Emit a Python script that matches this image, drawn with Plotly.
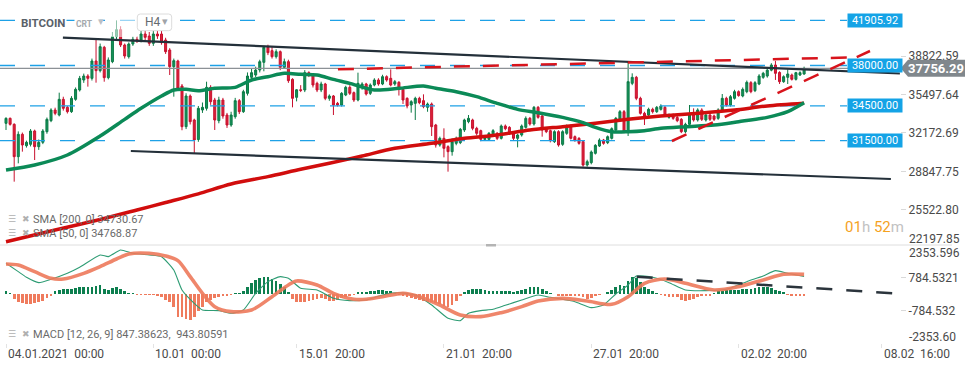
import plotly.graph_objects as go

# ---------------- DATA ----------------
candle_open = [
    32998, 33431, 32912, 30115, 32047, 31066, 31181, 32335, 30980, 31354,
    32277, 33229, 34152, 33719, 35074, 34382, 34007, 35074, 35882, 36747,
    37093, 36891, 38390, 37554, 39573, 36949, 38333, 40495, 41100, 39774,
    38765, 39861, 40265, 40207, 40726, 40553, 39919, 40726, 40726, 40207,
    39342, 37900, 38390, 36228, 32710, 35363, 33287, 31600, 34152, 34296,
    36112, 35017, 33229, 35017, 33719, 32854, 33575, 34959, 34007, 35593,
    36977, 37179, 37612, 38275, 39573, 39284, 38765, 39198, 37842, 38333,
    36804, 35247, 35900, 35882, 37381, 37179, 36458, 35882, 36401, 35161,
    35363, 34728, 34584, 35449, 36112, 35651, 35017, 36100, 36401, 35593,
    36314, 36747, 36401, 37035, 36891, 36401, 36545, 35939, 35161, 34584,
    34728, 35161, 34959, 34382, 34671, 32854, 31124, 31701, 30980, 30547,
    31268, 31326, 32422, 33142, 33287, 32566, 32364, 31614, 31614, 31989,
    32133, 31701, 32768, 32652, 32075, 31701, 31989, 32652, 33431, 32941,
    34382, 33632, 32566, 32364, 31412, 32277, 31182, 32133, 32768, 31845,
    31701, 31412, 29394, 29596, 30403, 31037, 31556, 31326, 31701, 32422,
    33287, 34007, 32277, 36458, 36977, 35161, 33863, 33719, 34209, 34007,
    34209, 34382, 33517, 33719, 33500, 33344, 32277, 32912, 33719, 33287,
    34152, 33287, 33719, 33632, 33431, 34152, 35161, 34584, 35161, 35737,
    35363, 35737, 36516, 35824, 36401, 36977, 37093, 37600, 38044, 37400,
    36603, 36977, 37179, 36804, 37179, 37266]
candle_close = [
    33431, 32912, 30115, 32047, 31124, 31354, 32335, 30980, 31354, 32335,
    33344, 34152, 33863, 35074, 34296, 34007, 35161, 35939, 36891, 37093,
    36891, 38390, 37554, 39630, 36949, 38477, 40495, 41100, 39774, 38823,
    39861, 40265, 40150, 40726, 40438, 39919, 40726, 40553, 39976, 39198,
    37900, 38419, 36026, 32710, 35363, 33142, 31556, 34296, 34382, 36112,
    34872, 33287, 35017, 33632, 32854, 33719, 34959, 34007, 35737, 37093,
    37381, 37612, 38333, 39573, 39111, 38765, 39198, 37842, 38333, 36689,
    35161, 35900, 35850, 37381, 37179, 36314, 35882, 36401, 35161, 35363,
    34584, 34584, 35593, 36112, 35593, 35017, 36458, 36401, 35536, 36314,
    36747, 36401, 37035, 36747, 36314, 36603, 35939, 35017, 34498, 34872,
    35161, 34786, 34440, 34671, 32710, 31124, 31701, 30836, 30547, 31412,
    31701, 32479, 33287, 33431, 32566, 32133, 31614, 31700, 32133, 32364,
    31701, 32768, 32537, 32133, 31701, 31989, 32768, 33431, 32941, 34382,
    33517, 32422, 32277, 31499, 32277, 31124, 32277, 32768, 31701, 31556,
    31268, 29394, 29682, 30518, 31095, 31556, 31268, 31845, 32537, 33431,
    34007, 32277, 36603, 36977, 35161, 33863, 33632, 34209, 34007, 34382,
    34498, 33719, 33719, 33431, 33229, 32277, 32912, 33719, 33287, 34152,
    33344, 33719, 33344, 33344, 34152, 35161, 34584, 35305, 35737, 35400,
    35939, 36545, 35737, 36516, 37093, 37323, 37600, 38044, 37323, 36603,
    37035, 37266, 36804, 37381, 37381, 37756.29]
candle_high = [
    33517, 33500, 33000, 32300, 32200, 31500, 32500, 32450, 31600, 32500,
    33500, 34300, 34350, 35651, 35300, 34500, 35350, 36100, 37100, 37300,
    37250, 38600, 40207, 39900, 39700, 38700, 40900, 41905.92, 41400, 39900,
    40000, 40500, 40500, 41000, 41200, 40900, 41300, 41000, 41000, 40400,
    39500, 38600, 38500, 36400, 35600, 35500, 33400, 34500, 34800, 36600,
    36300, 35200, 35300, 35200, 33900, 34000, 35200, 35100, 35900, 37400,
    37700, 37900, 38500, 39700, 39800, 39600, 39400, 39300, 38600, 38500,
    36900, 35950, 36300, 37600, 37500, 37300, 36600, 36600, 36500, 35500,
    35450, 34850, 35700, 36250, 36300, 35750, 37381, 36550, 36500, 36450,
    36900, 36900, 37200, 37150, 37669, 36750, 36650, 36000, 35250, 35000,
    35300, 35300, 35507, 34800, 34800, 32950, 31850, 32566, 31100, 31700,
    31850, 32600, 33400, 33719, 33400, 32700, 32450, 31850, 32250, 32500,
    32250, 32900, 32900, 32750, 32200, 32100, 32900, 33600, 33550, 34500,
    34500, 33750, 32650, 32450, 32400, 32400, 32400, 32900, 32900, 31950,
    31800, 31500, 29850, 30650, 31200, 31700, 31650, 31950, 32650, 33550,
    34150, 34150, 38333, 37323, 37100, 35300, 34000, 34350, 34350, 34500,
    34650, 34500, 33850, 33850, 33850, 33450, 33050, 34584, 34296, 34300,
    34300, 33850, 33850, 33750, 34300, 35536, 35300, 35450, 35900, 35850,
    36100, 36700, 36650, 36650, 37250, 37450, 37700, 38200, 38400, 37500,
    37150, 37669, 37300, 37450, 37500, 37900]
candle_low = [
    32422, 32800, 27952, 29538, 30547, 30900, 31000, 29826, 30700, 31200,
    32100, 33100, 33700, 33600, 34100, 33850, 33900, 34950, 35750, 36500,
    36170, 36700, 36516, 37400, 36600, 36800, 38200, 40200, 39600, 38600,
    38600, 39700, 39950, 40000, 40200, 39700, 39700, 40300, 39800, 39000,
    37179, 35305, 35800, 32400, 32500, 32900, 30403, 31400, 33900, 34100,
    34600, 32422, 33000, 33400, 32600, 32700, 33400, 33800, 33900, 35400,
    36800, 37000, 37400, 37500, 38900, 38600, 38600, 37600, 37700, 36500,
    34382, 34900, 35700, 35700, 37000, 36100, 35700, 35700, 35000, 34950,
    33719, 34450, 34450, 35350, 35450, 34850, 34900, 35900, 35400, 35450,
    36200, 36250, 36300, 36600, 36200, 36250, 35400, 34671, 34296, 33921,
    33287, 34650, 34300, 34000, 31903, 30900, 30980, 30057, 28817, 30200,
    31100, 31200, 32250, 33000, 32400, 31950, 31450, 31500, 31500, 31900,
    31550, 31600, 32400, 32000, 31550, 30922, 31850, 32550, 32800, 32800,
    33400, 31845, 32150, 31350, 31300, 30980, 31050, 32000, 31600, 31400,
    31150, 29250, 29250, 29450, 30300, 30950, 31150, 31200, 31600, 32300,
    33150, 32150, 31903, 36300, 35000, 33750, 32854, 33600, 33850, 33900,
    34100, 33600, 33400, 33300, 33100, 32150, 32150, 32600, 33150, 33150,
    33200, 33150, 33200, 33200, 33300, 34050, 34450, 34450, 35050, 35300,
    35250, 35600, 35600, 35700, 36300, 36850, 36950, 37500, 36750, 36400,
    36500, 36401, 36700, 36700, 37100, 37200]
candle_idx = list(range(len(candle_open)))

# moving averages read at sample candles
sma50_idx = [0, 7, 15, 23, 29, 33, 38, 41, 44, 47, 51, 56, 60, 64, 68, 72, 76, 80, 84,
             90, 96, 102, 105, 110, 115, 120, 125, 130, 136, 141, 144, 148, 152, 156,
             160, 166, 173, 179, 186, 191, 195]
sma50_val = [28961, 29394, 30259, 31902, 33344, 34296, 35363, 35882, 35939, 35824, 36026,
             36112, 36747, 37035, 37323, 37237, 37179, 36800, 36458, 35882, 36026, 36228,
             36026, 35737, 35305, 34728, 34209, 33921, 33517, 33056, 32652, 32277, 32277,
             32364, 32566, 32710, 32854, 33142, 33517, 34007, 34768.87]
sma200_idx = [0, 12, 23, 32, 39, 47, 55, 64, 72, 79, 87, 95, 104, 112, 120, 128, 136,
              144, 152, 160, 170, 178, 186, 195]
sma200_val = [22759, 23770, 24680, 25501, 26150, 26900, 27750, 28385, 29019, 29538, 30172,
              30836, 31268, 31701, 31989, 32422, 32710, 32998, 33344, 33632, 33900, 34152,
              34498, 34730.67]

# MACD pane
macd_idx = [0, 3, 5, 8, 11, 15, 18, 23, 25, 28, 31, 35, 38, 41, 43, 46, 48, 52, 55, 58,
            61, 64, 67, 69, 72, 76, 80, 84, 88, 92, 96, 100, 104, 108, 111, 113, 116, 119,
            122, 126, 130, 133, 136, 139, 143, 146, 149, 152, 154, 158, 162, 166, 171, 176,
            181, 185, 188, 191, 195]
macd_val = [1473, 1073, 801, 545, 705, 993, 1281, 1874, 1794, 2114, 1954, 1874, 1794, 1153,
            193, -448, -768, -800, -928, -768, 32, 593, 833, 753, 273, 193, -208, -320, -288,
            -48, 64, -48, -528, -1168, -1280, -928, -800, -736, -544, -288, -48, -160, -256,
            -368, -656, -528, 0, 433, 865, 801, 545, 193, 161, 225, 593, 865, 1121, 993,
            847.38623]
signal_idx = [0, 3, 7, 11, 14, 19, 23, 27, 30, 35, 39, 42, 45, 48, 51, 55, 60, 65, 69, 71,
              76, 80, 85, 88, 92, 97, 101, 106, 111, 116, 121, 126, 130, 136, 142, 148, 152,
              156, 161, 166, 173, 179, 185, 190, 195]
signal_val = [1441, 1393, 1073, 753, 721, 993, 1313, 1681, 1922, 1954, 1826, 1601, 833, 32,
              -608, -848, -768, -128, 433, 625, 433, 32, -256, -256, -128, 32, -128, -528,
              -1008, -1088, -896, -608, -336, -208, -336, -496, -128, 513, 721, 513, 193, 353,
              673, 945, 943.80591]
hist_val = [
    128, 32, -240, -368, -448, -480, -480, -448, -400, -320,
    -192, -80, 128, 192, 240, 224, 240, 288, 320, 352,
    352, 352, 400, 448, 240, 208, 272, 320, 240, 128,
    20, 5, -10, -48, -48, -48, -48, -80, -160, -288,
    -400, -608, -1088, -1120, -1200, -1248, -1088, -832, -608, -400,
    -288, -192, -128, -112, -80, -40, 10, 48, 160, 320,
    512, 672, 768, 832, 800, 720, 640, 480, 320, 80,
    -240, -368, -400, -368, -320, -288, -240, -192, -240, -320,
    -352, -288, -192, -128, -80, -10, 80, 112, 112, 160,
    160, 192, 192, 160, 128, 48, -48, -80, -128, -192,
    -240, -288, -320, -368, -400, -448, -480, -560, -608, -512,
    -352, -50, 120, 192, 240, 240, 240, 192, 160, 128,
    128, 128, 160, 128, 80, 128, 192, 240, 320, 352,
    352, 240, 160, 32, 0, -80, -80, -80, -80, -80,
    -80, -160, -240, -192, -80, -48, 0, 80, 192, 320,
    448, 400, 640, 800, 768, 560, 320, 240, 160, 32,
    -20, -112, -160, -160, -160, -288, -320, -288, -240, -160,
    -80, -64, -64, 20, 128, 160, 192, 192, 192, 192,
    224, 240, 240, 288, 320, 320, 320, 272, 192, 128,
    80, -20, -80, -96, -80, -96.42]

# drawn levels / trendlines (candle index, price)
level_prices = [41905.92, 38000.00, 34500.00, 31500.00]
last_price = 37756.29
channel_upper_idx, channel_upper_px = [13.9, 218.4], [40405, 37309]
channel_lower_idx, channel_lower_px = [30.5, 216.2], [30605, 28183]
wedge_top_idx, wedge_top_px = [81.1, 205.7], [37672, 38693]
wedge_bot_idx, wedge_bot_px = [162.7, 211.1], [31470, 39255]
macd_trend_idx, macd_trend_val = [154.1, 216.7], [831, 34]

# axis labels
x_tick_idx = [0, 36, 71, 107, 143, 179, 214]
x_tick_text = ["04.01.2021  00:00", "10.01  00:00", "15.01  20:00", "21.01  20:00",
               "27.01  20:00", "02.02  20:00", "08.02  16:00"]
price_ticks = [38822.59, 35497.64, 32172.69, 28847.75, 25522.80, 22197.85]
macd_ticks = [2353.596, 784.5321, -784.532, -2353.60]
macd_tick_text = ["2353.596", "784.5321", "-784.532", "-2353.60"]
sma200_last, sma50_last = 34730.67, 34768.87
macd_last, signal_last = 847.38623, 943.80591
timer_h, timer_m = "01", "52"

# ---------------- LAYOUT GEOMETRY ----------------
W, H = 970, 368
ML, MR, MT, MB = 0, 70, 0, 25
PW, PH = W - ML - MR, H - MT - MB
SPLIT_PX = 245
x_range = [-1.466, 218.43]
price_range = [22473.5, 43667.0]
macd_range = [-2353.596, 2353.596]
split = 1 - SPLIT_PX / PH


def PX(px):
    return (px - ML) / PW


def PY(py):
    return 1 - (py - MT) / PH


def idx_at(px):
    return x_range[0] + px / PW * (x_range[1] - x_range[0])


def py_price(p):
    return (price_range[1] - p) / (price_range[1] - price_range[0]) * SPLIT_PX


FONT = "Roboto"
GREEN, RED = "#0b8a57", "#d10d0d"
BLUE = "#1ea1e6"

fig = go.Figure()

fig.add_trace(go.Candlestick(
    x=candle_idx, open=candle_open, high=candle_high, low=candle_low, close=candle_close,
    increasing=dict(line=dict(color="#0b7a45", width=1), fillcolor="#14925a"),
    decreasing=dict(line=dict(color="#c8102e", width=1), fillcolor="#dc2339"),
    whiskerwidth=0, hoverinfo="skip", xaxis="x", yaxis="y"))

for lv in level_prices:
    fig.add_trace(go.Scatter(x=[x_range[0], idx_at(847)], y=[lv, lv], mode="lines",
                             line=dict(color=BLUE, width=1.3, dash="15px,15px"),
                             hoverinfo="skip", xaxis="x", yaxis="y"))
fig.add_trace(go.Scatter(x=x_range, y=[last_price, last_price], mode="lines",
                         line=dict(color="#8c9196", width=1.2), hoverinfo="skip",
                         xaxis="x", yaxis="y"))

fig.add_trace(go.Scatter(x=sma200_idx, y=sma200_val, mode="lines",
                         line=dict(color=RED, width=3.5, shape="spline", smoothing=0.8),
                         hoverinfo="skip", xaxis="x", yaxis="y"))
fig.add_trace(go.Scatter(x=sma50_idx, y=sma50_val, mode="lines",
                         line=dict(color=GREEN, width=3.5, shape="spline", smoothing=0.8),
                         hoverinfo="skip", xaxis="x", yaxis="y"))

for xs, ys in [(channel_upper_idx, channel_upper_px), (channel_lower_idx, channel_lower_px)]:
    fig.add_trace(go.Scatter(x=xs, y=ys, mode="lines", line=dict(color="#24303a", width=2.2),
                             hoverinfo="skip", xaxis="x", yaxis="y"))
for xs, ys in [(wedge_top_idx, wedge_top_px), (wedge_bot_idx, wedge_bot_px)]:
    fig.add_trace(go.Scatter(x=xs, y=ys, mode="lines",
                             line=dict(color="#d8141c", width=2.5, dash="16px,13px"),
                             hoverinfo="skip", xaxis="x", yaxis="y"))

# MACD pane
fig.add_trace(go.Bar(x=candle_idx, y=hist_val, width=0.66,
                     marker=dict(color=["#0d7f4f" if v >= 0 else "#ef7b5d" for v in hist_val],
                                 line=dict(width=0)),
                     hoverinfo="skip", xaxis="x", yaxis="y2"))
fig.add_trace(go.Scatter(x=macd_idx, y=macd_val, mode="lines",
                         line=dict(color="#2e9c74", width=1.1, shape="spline", smoothing=0.5),
                         hoverinfo="skip", xaxis="x", yaxis="y2"))
fig.add_trace(go.Scatter(x=signal_idx, y=signal_val, mode="lines", opacity=0.9,
                         line=dict(color="#ee7a5b", width=3.6, shape="spline", smoothing=0.8),
                         hoverinfo="skip", xaxis="x", yaxis="y2"))
fig.add_trace(go.Scatter(x=macd_trend_idx, y=macd_trend_val, mode="lines",
                         line=dict(color="#2b343c", width=2.5, dash="16px,14px"),
                         hoverinfo="skip", xaxis="x", yaxis="y2"))

# ---------------- SHAPES ----------------
shapes = []
shapes.append(dict(type="rect", xref="paper", yref="paper", x0=PX(106), x1=PX(137),
                   y0=PY(37), y1=PY(0), fillcolor="rgba(255,255,255,0.55)",
                   line=dict(width=0), layer="above"))
shapes.append(dict(type="line", xref="paper", yref="paper", x0=PX(0), x1=PX(952),
                   y0=PY(SPLIT_PX), y1=PY(SPLIT_PX), line=dict(color="#dedede", width=1)))
shapes.append(dict(type="rect", xref="paper", yref="paper", x0=PX(486), x1=PX(496),
                   y0=PY(246.5), y1=PY(244), fillcolor="#b4b4b4", line=dict(width=0)))
bx0, bx1, by0, by1, r = 137.3, 171.7, 14.0, 30.7, 3
h4_path = (f"M {PX(bx0 + r)},{PY(by0)} L {PX(bx1 - r)},{PY(by0)} "
           f"Q {PX(bx1)},{PY(by0)} {PX(bx1)},{PY(by0 + r)} L {PX(bx1)},{PY(by1 - r)} "
           f"Q {PX(bx1)},{PY(by1)} {PX(bx1 - r)},{PY(by1)} L {PX(bx0 + r)},{PY(by1)} "
           f"Q {PX(bx0)},{PY(by1)} {PX(bx0)},{PY(by1 - r)} L {PX(bx0)},{PY(by0 + r)} "
           f"Q {PX(bx0)},{PY(by0)} {PX(bx0 + r)},{PY(by0)} Z")
shapes.append(dict(type="path", xref="paper", yref="paper", path=h4_path,
                   fillcolor="white", line=dict(color="#dcdcdc", width=1), layer="above"))
cy = py_price(last_price)
tag = (f"M {PX(900.7)},{PY(cy)} L {PX(908)},{PY(cy - 8.5)} L {PX(965)},{PY(cy - 8.5)} "
       f"L {PX(965)},{PY(cy + 8.5)} L {PX(908)},{PY(cy + 8.5)} Z")
shapes.append(dict(type="path", xref="paper", yref="paper", path=tag,
                   fillcolor="#80878c", line=dict(width=0), layer="above"))

# ---------------- ANNOTATIONS ----------------
ann = []
nb = "\u00a0"
for i, t in zip(x_tick_idx, x_tick_text):
    ann.append(dict(x=i, xref="x", y=0, yref="paper", xanchor="left", yanchor="top",
                    xshift=0, yshift=-2, text=t.replace(" ", nb), showarrow=False,
                    font=dict(family=FONT, size=12, color="#4a4a4a")))
ann.append(dict(x=1, xref="paper", y=PY(239), yref="paper", xanchor="left", yanchor="middle",
                xshift=7, text=f"{price_ticks[-1]:.2f}", showarrow=False,
                font=dict(family=FONT, size=12, color="#4a4a4a")))
ann.append(dict(x=1, xref="paper", y=PY(253), yref="paper", xanchor="left", yanchor="middle",
                xshift=7, text=macd_tick_text[0], showarrow=False,
                font=dict(family=FONT, size=12, color="#4a4a4a")))
ann.append(dict(x=1, xref="paper", y=PY(337), yref="paper", xanchor="left", yanchor="middle",
                xshift=7, text=macd_tick_text[3], showarrow=False,
                font=dict(family=FONT, size=12, color="#4a4a4a")))
for lv in level_prices:
    ann.append(dict(x=PX(846.7), xref="paper", y=lv, yref="y", xanchor="left",
                    yanchor="middle", text=f"{lv:.2f}", showarrow=False, width=52, height=11,
                    borderpad=1, bgcolor="#14a3e6", align="center",
                    font=dict(family=FONT, size=11, color="white")))
ann.append(dict(x=PX(936.5), xref="paper", y=PY(cy), yref="paper", xanchor="center",
                yanchor="middle", text=f"<b>{last_price:.2f}</b>", showarrow=False,
                font=dict(family=FONT, size=13, color="white")))
ann.append(dict(x=PX(19), xref="paper", y=PY(23.5), yref="paper", xanchor="left",
                yanchor="middle", text="<b>BITCOIN</b>", showarrow=False, bgcolor="white",
                borderpad=1, font=dict(family=FONT, size=11.5, color="#5a6169")))
ann.append(dict(x=PX(74), xref="paper", y=PY(24), yref="paper", xanchor="left",
                yanchor="middle", text="<b>CRT</b>" + nb * 3, showarrow=False, bgcolor="white",
                font=dict(family=FONT, size=8.5, color="#a4a9ad")))
ann.append(dict(x=PX(96), xref="paper", y=PY(22), yref="paper", xanchor="left",
                yanchor="middle", text="▾", showarrow=False,
                font=dict(family="DejaVu Sans", size=11, color="#bcc0c4")))
ann.append(dict(x=PX(142.5), xref="paper", y=PY(22.5), yref="paper", xanchor="left",
                yanchor="middle", text="H4", showarrow=False,
                font=dict(family=FONT, size=12, color="#666b70")))
ann.append(dict(x=PX(160), xref="paper", y=PY(21.5), yref="paper", xanchor="left",
                yanchor="middle", text="▾", showarrow=False,
                font=dict(family="DejaVu Sans", size=11, color="#a0a4a8")))
orange, lg = "#f5a21f", "#c2c2c2"
ann.append(dict(x=PX(843), xref="paper", y=PY(227), yref="paper", xanchor="left",
                yanchor="middle", showarrow=False,
                text=(f'<span style="color:{orange}">{timer_h}</span>'
                      f'<span style="color:{lg}">h</span>{nb}'
                      f'<span style="color:{orange}">{timer_m}</span>'
                      f'<span style="color:{lg}">m</span>'),
                font=dict(family=FONT, size=15)))
legend_rows = [(219.5, f"SMA{nb}[200,{nb}0]{nb}{sma200_last:.2f}"),
               (233.5, f"SMA{nb}[50,{nb}0]{nb}{sma50_last:.2f}"),
               (334.5, f"MACD{nb}[12,{nb}26,{nb}9]{nb}{macd_last:.5f},{nb}{nb}{signal_last:.5f}")]
for yy, txt in legend_rows:
    ann.append(dict(x=PX(6), xref="paper", y=PY(yy - 1), yref="paper", xanchor="left",
                    yanchor="middle", text="☰", showarrow=False,
                    font=dict(family="DejaVu Sans", size=9, color="#b0b0b0")))
    ann.append(dict(x=PX(20), xref="paper", y=PY(yy - 1), yref="paper", xanchor="left",
                    yanchor="middle", text="✖", showarrow=False,
                    font=dict(family="DejaVu Sans", size=9, color="#b0b0b0")))
    ann.append(dict(x=PX(31), xref="paper", y=PY(yy), yref="paper", xanchor="left",
                    yanchor="middle", text=txt, showarrow=False,
                    font=dict(family=FONT, size=11, color="#6a6a6a")))

tickfont = dict(family=FONT, size=12, color="#4a4a4a")
fig.update_layout(
    width=W, height=H, margin=dict(l=ML, r=MR, t=MT, b=MB),
    paper_bgcolor="white", plot_bgcolor="white", showlegend=False,
    font=dict(family=FONT),
    xaxis=dict(range=x_range, domain=[0, 1], anchor="y2", showgrid=False, zeroline=False,
               showticklabels=False, ticks="outside", tickvals=x_tick_idx, ticklen=4,
               tickcolor="#e3e3e3", rangeslider=dict(visible=False), showline=False),
    yaxis=dict(domain=[split, 1], range=price_range, side="right", anchor="x",
               tickvals=price_ticks[:-1], ticktext=[f"{v:.2f}" for v in price_ticks[:-1]],
               ticks="outside", ticklen=5, tickcolor="#d9d9d9", showgrid=False,
               zeroline=False, tickfont=tickfont),
    yaxis2=dict(domain=[0, split], range=macd_range, side="right", anchor="x",
                tickvals=macd_ticks[1:3], ticktext=macd_tick_text[1:3], ticks="outside",
                ticklen=5, tickcolor="#d9d9d9", showgrid=False, zeroline=False,
                tickfont=tickfont),
    shapes=shapes, annotations=ann, bargap=0,
)

fig.write_html("out.html", config={"displayModeBar": False},
               post_script="document.body.style.margin='0';document.body.style.padding='0';")
